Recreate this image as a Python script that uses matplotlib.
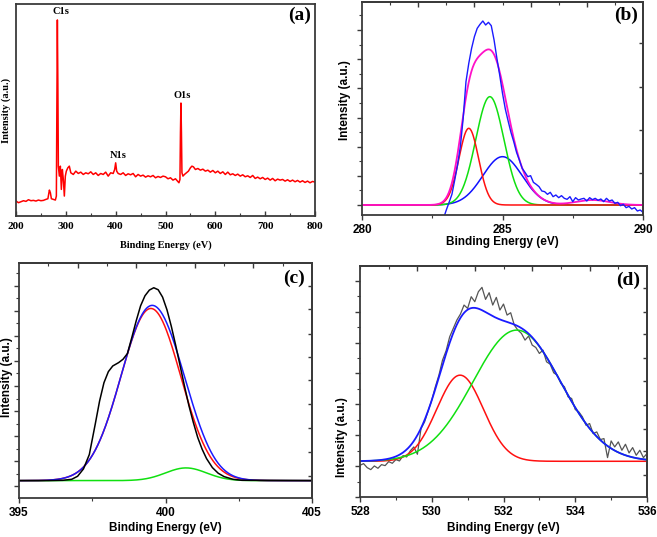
import numpy as np
import matplotlib
matplotlib.use('Agg')
import matplotlib.pyplot as plt
from matplotlib.ticker import MultipleLocator, FixedLocator, NullFormatter, NullLocator

SERIF = 'Liberation Serif'
SANS = 'Liberation Sans'
SPINE = '#3a3a3a'

# ---------------- (a) survey spectrum ----------------
a_energy = [200, 205, 210, 215, 220, 225, 230, 235, 240, 245, 250, 255, 260, 264, 267, 269, 271, 275, 279,
            281, 282, 283, 284, 285, 287, 289, 291, 293, 295, 297, 299, 301, 304, 307, 310, 315, 320, 325,
            330, 335, 340, 345, 350, 355, 360, 365, 370, 375, 380, 385, 390, 395, 398, 400, 402, 405, 410,
            415, 420, 425, 430, 435, 440, 445, 450, 455, 460, 465, 470, 475, 480, 485, 490, 495, 500, 505,
            510, 515, 520, 524, 527, 529, 530, 531, 532, 533, 535, 538, 542, 546, 550, 553, 556, 560, 565,
            570, 575, 580, 585, 590, 595, 600, 605, 610, 615, 620, 625, 630, 635, 640, 645, 650, 655, 660,
            665, 670, 675, 680, 685, 690, 695, 700, 705, 710, 715, 720, 725, 730, 735, 740, 745, 750, 755,
            760, 765, 770, 775, 780, 785, 790, 795, 800]
a_intensity = [45, 40, 43, 46, 44, 49, 46, 47, 45, 48, 46, 47, 50, 52, 78, 70, 52, 50, 48,
               60, 300, 590, 400, 150, 120, 150, 80, 140, 110, 60, 120, 135, 145, 150, 130, 125, 135, 128,
               132, 125, 130, 127, 133, 125, 130, 122, 128, 125, 132, 120, 130, 128, 140, 160, 135, 128, 125,
               130, 122, 127, 124, 128, 118, 125, 120, 123, 117, 121, 118, 122, 115, 119, 116, 120, 118, 112,
               115, 108, 112, 105, 100, 110, 250, 340, 250, 130, 120, 125, 130, 135, 145, 150, 148, 140, 143,
               138, 141, 135, 138, 132, 137, 130, 135, 128, 133, 125, 132, 124, 127, 122, 126, 120, 124, 118,
               121, 116, 122, 113, 117, 112, 116, 110, 114, 108, 113, 106, 111, 108, 110, 105, 109, 104, 108,
               103, 107, 102, 106, 101, 105, 100, 104, 102]
a_peak_names = ['C1s', 'N1s', 'O1s']
a_peak_x = [290, 405, 534]
a_peak_y = [614, 182, 363]

# ---------------- (b) C1s ----------------
b_energy = [282.94, 283.0, 283.1, 283.2, 283.3, 283.4, 283.5, 283.6, 283.7, 283.8, 283.9, 284.0, 284.1,
            284.2, 284.3, 284.4, 284.5, 284.6, 284.7, 284.8, 284.9, 285.0, 285.1, 285.2, 285.3, 285.4,
            285.5, 285.6, 285.7, 285.8, 285.9, 286.0, 286.1, 286.2, 286.3, 286.4, 286.5, 286.6, 286.7,
            286.8, 286.9, 287.0, 287.1, 287.2, 287.3, 287.4, 287.5, 287.6, 287.7, 287.8, 287.9, 288.0,
            288.1, 288.2, 288.3, 288.4, 288.5, 288.6, 288.7, 288.8, 288.9, 289.0, 289.1, 289.2, 289.3,
            289.4, 289.5, 289.6, 289.7, 289.8, 289.9, 290.0]
b_intensity = [0, 15, 38, 62, 105, 150, 205, 290, 400, 455, 500, 535, 560,
               572, 582, 570, 578, 568, 525, 470, 420, 365, 318, 282, 248, 220,
               188, 165, 140, 128, 115, 118, 98, 92, 85, 72, 70, 62, 68,
               55, 60, 52, 58, 50, 47, 55, 40, 52, 45, 48, 50, 42,
               52, 46, 50, 44, 48, 40, 50, 42, 45, 35, 38, 28, 32,
               22, 26, 18, 22, 12, 15, 8]
b_baseline = 30
b_centers = [283.8, 284.55, 285.0]
b_heights = [230, 325, 145]
b_sigmas = [0.35, 0.5, 0.7]
b_colors = ['#ff1010', '#10e010', '#1010ff']
b_extra_center, b_extra_height, b_extra_sigma = 288.2, 15, 0.6

# ---------------- (c) N1s ----------------
c_energy = [395.0, 396.0, 396.5, 396.8, 397.0, 397.2, 397.4, 397.6, 397.75, 397.9, 398.05, 398.2, 398.4,
            398.55, 398.7, 398.85, 399.0, 399.15, 399.3, 399.45, 399.6, 399.75, 399.9, 400.05, 400.2,
            400.35, 400.5, 400.65, 400.8, 400.95, 401.1, 401.25, 401.4, 401.6, 401.8, 402.0, 402.3,
            402.6, 405.0]
c_intensity = [52, 52, 53, 56, 65, 87, 130, 220, 290, 345, 378, 395, 405,
               415, 432, 480, 530, 575, 605, 622, 629, 623, 601, 563, 513,
               456, 395, 334, 276, 226, 181, 146, 118, 91, 74, 64, 56,
               53, 52]
c_baseline = 52
c_centers = [399.5, 400.7]
c_heights = [515, 38]
c_sigmas = [1.02, 0.7]

# ---------------- (d) O1s ----------------
d_energy = [528.0, 528.1, 528.2, 528.3, 528.4, 528.5, 528.6, 528.7, 528.8, 528.9, 529.0, 529.1, 529.2,
            529.3, 529.4, 529.5, 529.6, 529.7, 529.8, 529.9, 530.0, 530.1, 530.2, 530.3, 530.4, 530.5,
            530.6, 530.7, 530.8, 530.9, 531.0, 531.1, 531.2, 531.3, 531.4, 531.5, 531.6, 531.7, 531.8,
            531.9, 532.0, 532.1, 532.2, 532.3, 532.4, 532.5, 532.6, 532.7, 532.8, 532.9, 533.0, 533.1,
            533.2, 533.3, 533.4, 533.5, 533.6, 533.7, 533.8, 533.9, 534.0, 534.1, 534.2, 534.3, 534.4,
            534.5, 534.6, 534.7, 534.8, 534.9, 535.0, 535.1, 535.2, 535.3, 535.4, 535.5, 535.6, 535.7,
            535.8, 535.9, 536.0]
d_intensity = [95, 100, 88, 82, 93, 86, 97, 94, 106, 101, 112, 108, 124,
               120, 138, 150, 128, 205, 225, 258, 290, 330, 365, 410, 438, 480,
               505, 530, 548, 575, 565, 600, 585, 615, 628, 592, 612, 575, 598,
               560, 578, 545, 552, 515, 500, 490, 470, 482, 455, 448, 430, 440,
               405, 398, 372, 365, 340, 330, 300, 295, 262, 255, 240, 215, 220,
               190, 195, 172, 175, 118, 168, 150, 165, 140, 158, 132, 148, 125,
               140, 118, 130]
d_baseline = 107
d_centers = [530.79, 532.37]
d_heights = [258, 393]
d_sigmas = [0.65, 1.22]


def gauss(x, c, h, s):
    return h * np.exp(-(x - c) ** 2 / (2 * s ** 2))


def style_spines(ax):
    for sp in ax.spines.values():
        sp.set_color(SPINE)
        sp.set_linewidth(1.3)


fig = plt.figure(figsize=(6.57, 5.37), dpi=100)
W, H = 657, 537


def add_ax(l, t, r, b):
    return fig.add_axes([l / W, 1 - b / H, (r - l) / W, (b - t) / H])


# ---------- (a) ----------
axa = add_ax(16, 4, 315, 216)
axa.plot(a_energy, a_intensity, color='#ff0000', lw=1.1)
axa.set_xlim(200, 800)
axa.set_ylim(0, 638)
axa.yaxis.set_major_locator(NullLocator())
axa.xaxis.set_major_locator(MultipleLocator(100))
axa.xaxis.set_minor_locator(MultipleLocator(50))
axa.tick_params(axis='x', which='both', direction='in', pad=4, labelsize=8)
axa.tick_params(axis='x', which='major', length=3.5, width=1, color=SPINE)
axa.tick_params(axis='x', which='minor', length=2, width=0.8, color=SPINE)
for lab in axa.get_xticklabels():
    lab.set_fontfamily(SERIF)
    lab.set_fontweight('bold')
for name, px, py in zip(a_peak_names, a_peak_x, a_peak_y):
    axa.text(px, py, name, ha='center', va='center', fontsize=7.5, fontweight='bold', family=SERIF)
axa.text(0.5, -0.137, 'Binding Energy (eV)', transform=axa.transAxes, ha='center', va='center',
         fontsize=7.5, fontweight='bold', family=SERIF)
axa.text(-0.033, 0.5, 'Intensity (a.u.)', transform=axa.transAxes, ha='center', va='center',
         rotation=90, fontsize=7.5, fontweight='bold', family=SERIF)
axa.text(0.95, 0.948, '(a)', transform=axa.transAxes, ha='center', va='center',
         fontsize=14, fontweight='bold', family=SERIF)
style_spines(axa)


def sans_panel(ax, xlim, ylim, xmaj, xmin, left_major, left_minor, top_ticks, top_major, right_ticks,
               xlab_y, ylab_x, ylab_y, letter, lx, ly):
    ax.set_xlim(*xlim)
    ax.set_ylim(*ylim)
    ax.xaxis.set_major_locator(MultipleLocator(xmaj))
    ax.xaxis.set_minor_locator(MultipleLocator(xmin))
    ax.yaxis.set_major_locator(FixedLocator(left_major))
    ax.yaxis.set_minor_locator(FixedLocator(left_minor))
    ax.yaxis.set_major_formatter(NullFormatter())
    ax.tick_params(axis='both', which='both', direction='out', color=SPINE)
    ax.tick_params(axis='both', which='major', length=3.5, width=1)
    ax.tick_params(axis='both', which='minor', length=2, width=0.8)
    ax.tick_params(axis='x', pad=3, labelsize=8.5)
    for lab in ax.get_xticklabels():
        lab.set_fontfamily(SANS)
        lab.set_fontweight('bold')
    sx = ax.secondary_xaxis('top')
    sx.xaxis.set_major_locator(FixedLocator(top_major))
    sx.xaxis.set_minor_locator(FixedLocator(top_ticks))
    sx.xaxis.set_major_formatter(NullFormatter())
    sx.tick_params(which='both', direction='in', color=SPINE)
    sx.tick_params(which='major', length=3.5, width=1)
    sx.tick_params(which='minor', length=2, width=0.8)
    sy = ax.secondary_yaxis('right')
    sy.yaxis.set_major_locator(FixedLocator(right_ticks))
    sy.yaxis.set_minor_locator(NullLocator())
    sy.yaxis.set_major_formatter(NullFormatter())
    sy.tick_params(which='both', direction='in', length=3, width=1, color=SPINE)
    for s in (sx, sy):
        for sp in s.spines.values():
            sp.set_color(SPINE)
            sp.set_linewidth(1.3)
    ax.text(0.5, xlab_y, 'Binding Energy (eV)', transform=ax.transAxes, ha='center', va='center',
            fontsize=8.5, fontweight='bold', family=SANS)
    ax.text(ylab_x, ylab_y, 'Intensity (a.u.)', transform=ax.transAxes, ha='center', va='center',
            rotation=90, fontsize=8.5, fontweight='bold', family=SANS)
    ax.text(lx, ly, letter, transform=ax.transAxes, ha='center', va='center',
            fontsize=14, fontweight='bold', family=SERIF)
    style_spines(ax)


# ---------- (b) ----------
axb = add_ax(362, 2, 643, 215)
xb = np.linspace(280, 290, 600)
for c, h, s, col in reversed(list(zip(b_centers, b_heights, b_sigmas, b_colors))):
    axb.plot(xb, b_baseline + gauss(xb, c, h, s), color=col, lw=1.1)
b_env = b_baseline + sum(gauss(xb, c, h, s) for c, h, s in zip(b_centers, b_heights, b_sigmas)) \
    + gauss(xb, b_extra_center, b_extra_height, b_extra_sigma)
axb.plot(xb, b_env, color='#ff10c8', lw=1.3)
axb.plot(b_energy, b_intensity, color='#1a1aff', lw=1.0)
b_left_major = [30 + 87.5 * k for k in range(8)]
b_left_minor = [30 + 87.5 * k + 43.75 for k in range(7)]
sans_panel(axb, (280, 290), (0, 639), 5, 2.5, b_left_major, b_left_minor,
           [281, 283, 285, 287, 289], [282, 284, 286, 288], [125, 255, 383, 515],
           -0.127, -0.06, 0.54, '(b)', 0.94, 0.939)

# ---------- (c) ----------
axc = add_ax(19, 263, 312, 498)
xc = np.linspace(395, 405, 600)
c_red = gauss(xc, c_centers[0], c_heights[0], c_sigmas[0])
c_green = gauss(xc, c_centers[1], c_heights[1], c_sigmas[1])
axc.plot(xc, c_baseline + c_green, color='#10e010', lw=1.1)
axc.plot(xc, c_baseline + c_red, color='#ff1010', lw=1.1)
axc.plot(xc, c_baseline + c_red + c_green, color='#1a1aff', lw=1.1)
axc.plot(c_energy, c_intensity, color='black', lw=1.1)
c_left_major = [35 + 75 * k for k in range(9)]
c_left_minor = [35 + 75 * k + 37.5 for k in range(9)]
sans_panel(axc, (395, 405), (0, 703), 5, 2.5, c_left_major, c_left_minor,
           [396, 398, 400, 402, 404], [397, 399, 401, 403],
           [67, 137, 210, 282, 352, 422, 492, 564, 634],
           -0.128, -0.041, 0.513, '(c)', 0.939, 0.936)

# ---------- (d) ----------
axd = add_ax(360, 266, 647, 497)
xd = np.linspace(528, 536, 600)
d_red = gauss(xd, d_centers[0], d_heights[0], d_sigmas[0])
d_green = gauss(xd, d_centers[1], d_heights[1], d_sigmas[1])
axd.plot(d_energy, d_intensity, color='#555555', lw=0.9)
axd.plot(xd, d_baseline + d_red, color='#ff1010', lw=1.1)
axd.plot(xd, d_baseline + d_green, color='#10e010', lw=1.1)
axd.plot(xd, d_baseline + d_red + d_green, color='#1a1aff', lw=1.3)
d_left_major = [92.5 * k for k in range(8)]
d_left_minor = [92.5 * k + 46.25 for k in range(7)]
d_top = [528 + 0.8 * k for k in range(11)]
sans_panel(axd, (528, 536), (0, 692), 2, 1, d_left_major, d_left_minor,
           d_top, [529.6, 531.2, 532.8, 534.4],
           [67, 137, 205, 277, 347, 415, 487, 555, 625],
           -0.134, -0.063, 0.26, '(d)', 0.934, 0.939)

fig.savefig('out.png', dpi=100)
